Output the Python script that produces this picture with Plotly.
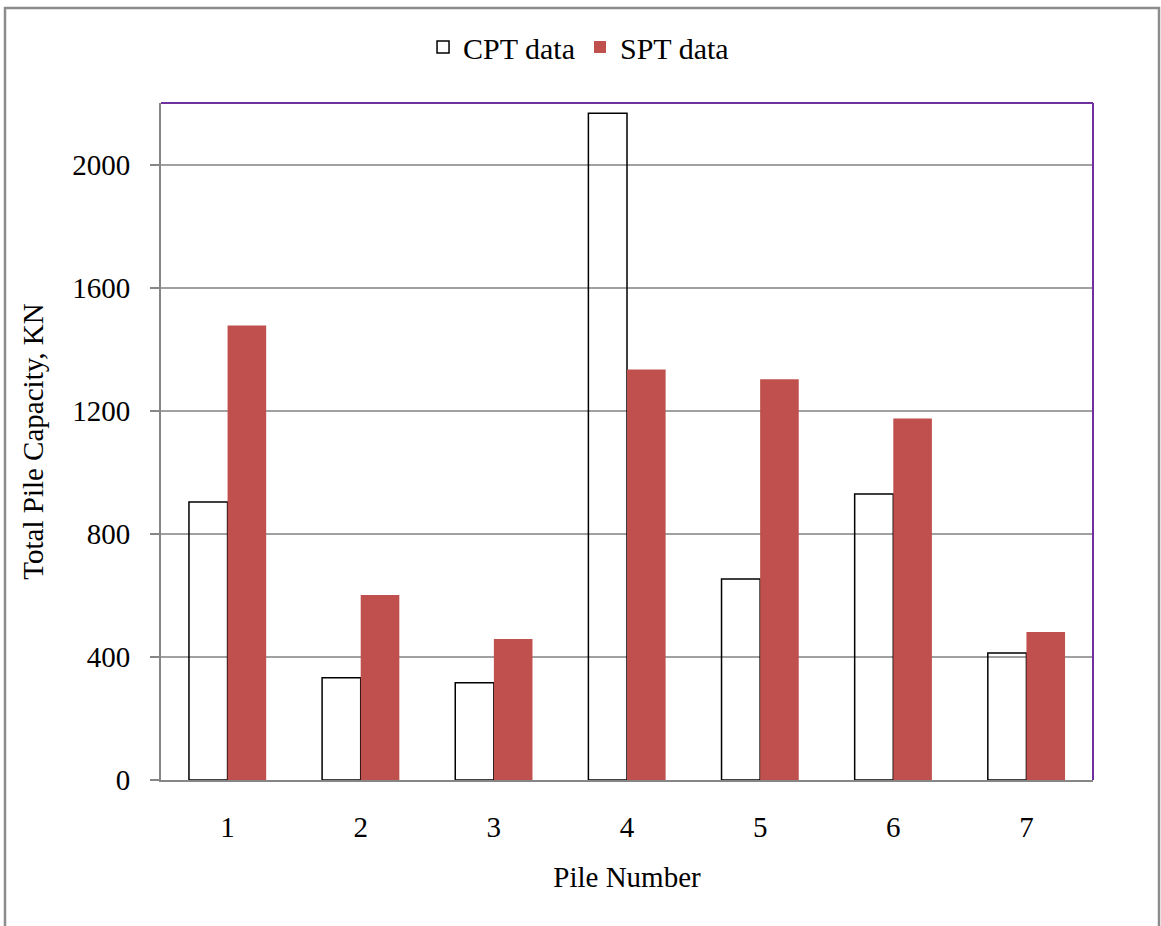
import plotly.graph_objects as go

piles = ["1", "2", "3", "4", "5", "6", "7"]
cpt_values = [903, 332, 316, 2167, 653, 929, 413]
spt_values = [1477, 601, 458, 1334, 1302, 1175, 481]
y_ticks = [0, 400, 800, 1200, 1600, 2000]

W, H = 1161, 926
L, R, T, B = 161, 1093, 103, 780
FONT = "Liberation Serif, Times New Roman, serif"

fig = go.Figure()
fig.add_trace(go.Bar(
    x=piles, y=cpt_values, name="CPT data",
    marker=dict(color="rgba(255,255,255,0)", line=dict(color="#000000", width=1.5)),
))
fig.add_trace(go.Bar(
    x=piles, y=spt_values, name="SPT data",
    marker=dict(color="#C0504D", line=dict(width=0)),
))

pw = R - L
ph = B - T
def px(x):
    return (x - L) / pw
def py(y):
    return (B - y) / ph

# outer chart border
fig.add_shape(type="rect", xref="paper", yref="paper",
              x0=px(5), x1=px(1159), y0=py(940), y1=py(8),
              line=dict(color="#8C8C8C", width=2.5), fillcolor="rgba(0,0,0,0)", layer="below")
# purple top and right plot border
fig.add_shape(type="line", xref="paper", yref="paper", x0=0, x1=1, y0=1, y1=1,
              line=dict(color="#7030A0", width=2))
fig.add_shape(type="line", xref="paper", yref="paper", x0=1, x1=1, y0=0, y1=1,
              line=dict(color="#7030A0", width=2))

fig.update_layout(
    width=W, height=H,
    margin=dict(l=L, r=W - R, t=T, b=H - B, pad=0),
    paper_bgcolor="white", plot_bgcolor="white",
    font=dict(family=FONT, size=29, color="#000000"),
    barmode="group", bargap=0.42, bargroupgap=0,
    showlegend=True,
    legend=dict(orientation="h", x=0.448, xanchor="center", y=py(47), yanchor="middle",
                font=dict(family=FONT, size=30), itemwidth=30, traceorder="normal",
                bgcolor="rgba(0,0,0,0)"),
    xaxis=dict(
        type="category", showgrid=False, showline=True, linecolor="#868686", linewidth=2,
        ticks="", tickfont=dict(size=29), ticklabelstandoff=20,
        title=dict(text="Pile Number", font=dict(size=29), standoff=25),
        zeroline=False,
    ),
    yaxis=dict(
        range=[0, 2200], tickvals=y_ticks, ticktext=[str(v) for v in y_ticks],
        showgrid=True, gridcolor="#A0A0A0", gridwidth=1.5,
        showline=True, linecolor="#868686", linewidth=2,
        ticks="outside", ticklen=9, tickcolor="#868686", tickwidth=2,
        tickfont=dict(size=29), ticklabelstandoff=14,
        title=dict(text="Total Pile Capacity, KN", font=dict(size=29), standoff=20),
        zeroline=False,
    ),
)

fig.write_html("out.html")
